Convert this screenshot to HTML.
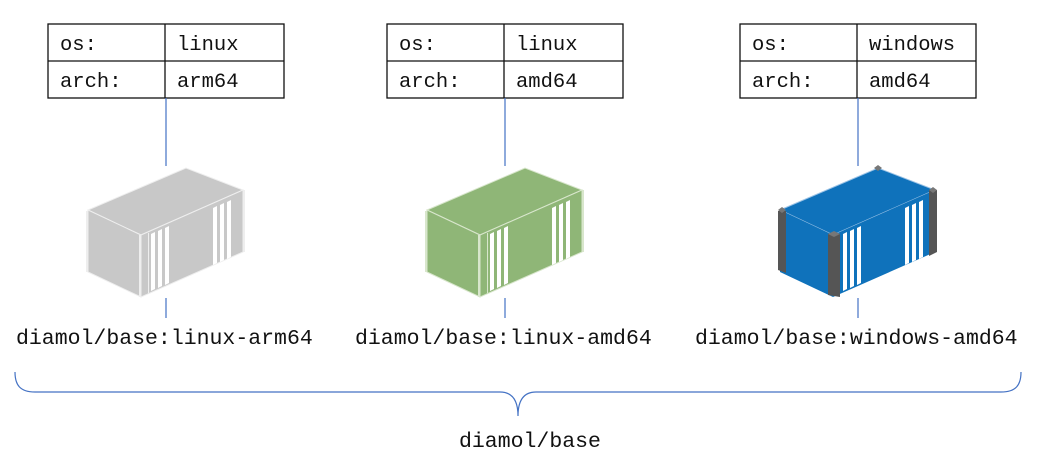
<!DOCTYPE html>
<html><head><style>
html,body{margin:0;padding:0;background:#fff;}
svg{display:block;}
text{font-family:"Liberation Mono",monospace;fill:#111;}
</style></head><body>
<svg width="1037" height="467" viewBox="0 0 1037 467" xmlns="http://www.w3.org/2000/svg">

<g fill="none" stroke="#111" stroke-width="1.3">
<rect x="48" y="24" width="236" height="74"/><line x1="165" y1="24" x2="165" y2="98"/><line x1="48" y1="61" x2="284" y2="61"/>
<rect x="387" y="24" width="236" height="74"/><line x1="504" y1="24" x2="504" y2="98"/><line x1="387" y1="61" x2="623" y2="61"/>
<rect x="740" y="24" width="236" height="74"/><line x1="857" y1="24" x2="857" y2="98"/><line x1="740" y1="61" x2="976" y2="61"/>
</g>
<g font-size="20.5">
<text x="60" y="50">os:</text><text x="177" y="50">linux</text>
<text x="60" y="87">arch:</text><text x="177" y="87">arm64</text>
<text x="399" y="50">os:</text><text x="516" y="50">linux</text>
<text x="399" y="87">arch:</text><text x="516" y="87">amd64</text>
<text x="752" y="50">os:</text><text x="869" y="50">windows</text>
<text x="752" y="87">arch:</text><text x="869" y="87">amd64</text>
</g>

<g stroke="#4472c4" stroke-width="1.2">
<line x1="166" y1="98" x2="166" y2="166"/><line x1="166" y1="298" x2="166" y2="318"/>
<line x1="505" y1="98" x2="505" y2="166"/><line x1="505" y1="298" x2="505" y2="318"/>
<line x1="858" y1="98" x2="858" y2="166"/><line x1="858" y1="298" x2="858" y2="318"/>
</g>

<g>
<polygon points="780,210 878,168 935,190 833,235" fill="#0f72bb" stroke="#9cc3e6" stroke-width="1"/>
<polygon points="780,210 833,235 833,297 780,272" fill="#0f72bb"/>
<polygon points="833,235 935,190 935,252 833,297" fill="#0f72bb"/>
<polygon points="778,211 786,211 786,273 778,270" fill="#555"/>
<polygon points="828,234 840,234 840,297 828,295" fill="#555"/>
<polygon points="929,190 937,190 937,252 929,256" fill="#555"/>
<g fill="#777"><polygon points="778,210 782,207 786,210 782,213"/><polygon points="874,168 878,165 882,168 878,171"/><polygon points="929,190 933,187 937,190 933,193"/><polygon points="828,234 834,231 840,234 834,237"/></g>
<g fill="#fff">
<polygon points="843,234 847,232 847,289 843,291"/>
<polygon points="850,231 854,229 854,286 850,288"/>
<polygon points="857,228 861,226 861,283 857,285"/>
<polygon points="905,208 909,206 909,263 905,265"/>
<polygon points="912,205 916,203 916,260 912,262"/>
<polygon points="919,202 923,200 923,257 919,259"/>
</g>
</g>
<g>
<polygon points="427,210 525,168 582,190 480,235" fill="#8fb677" stroke="#d8e6cc" stroke-width="1"/>
<polygon points="427,210 480,235 480,297 427,272" fill="#8fb677" stroke="#d8e6cc" stroke-width="1"/>
<polygon points="480,235 582,190 582,252 480,297" fill="#8fb677" stroke="#d8e6cc" stroke-width="1"/>
<g fill="#d8e6cc"><rect x="425" y="211" width="2" height="61"/><rect x="478" y="235" width="2" height="62"/><rect x="487" y="233" width="1" height="60"/><rect x="582" y="190" width="2" height="62"/></g>
<g fill="#fff">
<polygon points="490,234 494,232 494,289 490,291"/>
<polygon points="497,231 501,229 501,286 497,288"/>
<polygon points="504,228 508,226 508,283 504,285"/>
<polygon points="552,208 556,206 556,263 552,265"/>
<polygon points="559,205 563,203 563,260 559,262"/>
<polygon points="566,202 570,200 570,257 566,259"/>
</g>
</g>
<g>
<polygon points="88,210 186,168 243,190 141,235" fill="#c8c8c8" stroke="#eee" stroke-width="1"/>
<polygon points="88,210 141,235 141,297 88,272" fill="#c8c8c8" stroke="#eee" stroke-width="1"/>
<polygon points="141,235 243,190 243,252 141,297" fill="#c8c8c8" stroke="#eee" stroke-width="1"/>
<g fill="#eee"><rect x="86" y="211" width="2" height="61"/><rect x="139" y="235" width="2" height="62"/><rect x="148" y="233" width="1" height="60"/><rect x="243" y="190" width="2" height="62"/></g>
<g fill="#fff">
<polygon points="151,234 155,232 155,289 151,291"/>
<polygon points="158,231 162,229 162,286 158,288"/>
<polygon points="165,228 169,226 169,283 165,285"/>
<polygon points="213,208 217,206 217,263 213,265"/>
<polygon points="220,205 224,203 224,260 220,262"/>
<polygon points="227,202 231,200 231,257 227,259"/>
</g>
</g>

<g font-size="21.5">
<text x="16" y="344">diamol/base:linux-arm64</text>
<text x="355" y="344">diamol/base:linux-amd64</text>
<text x="695" y="344">diamol/base:windows-amd64</text>
<text x="459" y="447">diamol/base</text>
</g>

<path d="M15,372 C15,385 20,392 35,392 L500,392 C512,392 518,400 518,416 C518,400 524,392 536,392 L1001,392 C1016,392 1021,385 1021,372" fill="none" stroke="#4472c4" stroke-width="1.2"/>
</svg>
</body></html>
